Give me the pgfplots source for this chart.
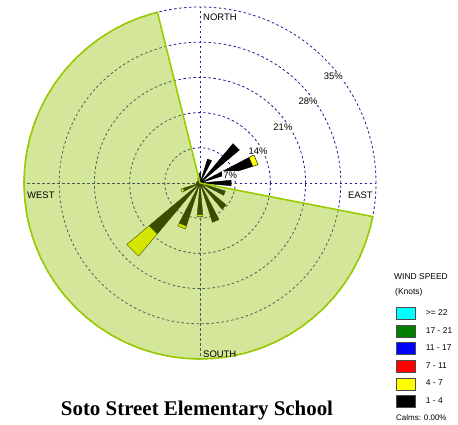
\documentclass[border=0pt]{standalone}
\usepackage{pgfplots}
\pgfplotsset{compat=1.18}
\usepgfplotslibrary{polar}
\usepackage{pgfplotstable}
\usepackage{fontspec}
\setmainfont{Liberation Sans}
\newfontfamily\titlefont{Liberation Serif}
\definecolor{gridblue}{RGB}{30,30,150}
\definecolor{sectorfill}{RGB}{147,192,0}
\definecolor{sectoredge}{RGB}{153,204,0}
\definecolor{legcyan}{RGB}{0,255,255}
\definecolor{leggreen}{RGB}{0,128,0}
\definecolor{legblue}{RGB}{0,0,255}
\definecolor{legred}{RGB}{255,0,0}
\definecolor{legyellow}{RGB}{255,255,0}

% black (1-4 knots) wedges: math angle, radius (%)
\pgfplotstableread{
a r
0 0
85 2.0
95 2.0
0 0
nan nan
0 0
62.5 5.0
72.5 5.0
0 0
nan nan
0 0
40 10.2
50 10.2
0 0
nan nan
0 0
17.5 11.0
27.5 11.0
0 0
nan nan
0 0
-5 6.2
5 6.2
0 0
nan nan
0 0
-27.5 5.3
-17.5 5.3
0 0
nan nan
0 0
-50 6.8
-40 6.8
0 0
nan nan
0 0
-72.5 8.2
-62.5 8.2
0 0
nan nan
0 0
-95 6.3
-85 6.3
0 0
nan nan
0 0
-117.5 9.0
-107.5 9.0
0 0
nan nan
0 0
-140 13.2
-130 13.2
0 0
nan nan
0 0
-162.5 3.5
-152.5 3.5
0 0
nan nan
0 0
175 0.8
185 0.8
0 0
nan nan
0 0
152.5 0.6
162.5 0.6
0 0
nan nan
0 0
130 0.6
140 0.6
0 0
nan nan
0 0
107.5 1.0
117.5 1.0
0 0
}\blackbars

% yellow (4-7 knots) segments
\pgfplotstableread{
a r
17.5 11.0
27.5 11.0
27.5 12.1
17.5 12.1
17.5 11.0
nan nan
-95 6.3
-85 6.3
-85 6.7
-95 6.7
-95 6.3
nan nan
-117.5 9.0
-107.5 9.0
-107.5 9.6
-117.5 9.6
-117.5 9.0
nan nan
-140 13.2
-130 13.2
-130 19.0
-140 19.0
-140 13.2
nan nan
-162.5 3.5
-152.5 3.5
-152.5 4.0
-162.5 4.0
-162.5 3.5
}\yellowbars

% shaded sector (bearing 101 to 346 deg, clockwise through south)
\pgfplotstableread{
a r
0 0
104 35
110 35
115 35
120 35
125 35
130 35
135 35
140 35
145 35
150 35
155 35
160 35
165 35
170 35
175 35
180 35
185 35
190 35
195 35
200 35
205 35
210 35
215 35
220 35
225 35
230 35
235 35
240 35
245 35
250 35
255 35
260 35
265 35
270 35
275 35
280 35
285 35
290 35
295 35
300 35
305 35
310 35
315 35
320 35
325 35
330 35
335 35
340 35
345 35
349 35
0 0
}\sector

\begin{document}
\begin{tikzpicture}
\useasboundingbox (-200bp,-242bp) rectangle (258bp,183bp);
\begin{polaraxis}[
  at={(0,0)}, anchor=center,
  width=352bp, height=352bp, scale only axis,
  xmin=0, xmax=360, ymin=0, ymax=35,
  xtick={0,90,180,270}, ytick={7,14,21,28},
  xticklabels={}, yticklabels={},
  major tick length=0pt,
  grid=major,
  grid style={gridblue, dash pattern=on 2.5bp off 2.5bp, line width=0.8bp},
  axis line style={gridblue, dash pattern=on 2.5bp off 2.5bp, line width=0.8bp},
  unbounded coords=jump,
  clip=false,
  legend style={at={(axis description cs:1.057,0.148)}, anchor=north west,
    draw=none, fill=none, inner sep=0pt, row sep=5.0bp, column sep=10bp,
    font=\fontsize{8.5}{10}\selectfont, nodes={inner sep=0pt}},
  legend cell align=left,
  legend image code/.code={\draw[#1, draw=black!70, line width=0.6bp] (0bp,-6bp) rectangle (19bp,6bp);},
]
\addplot[forget plot, fill=black, draw=black, line width=0.4bp] table[x=a, y=r] {\blackbars};
\addplot[forget plot, fill=legyellow, draw=black, line width=0.4bp] table[x=a, y=r] {\yellowbars};
\addplot[forget plot, fill=sectorfill, fill opacity=0.4, draw=none] table[x=a, y=r] {\sector};
\addplot[forget plot, draw=sectoredge, line width=1.6bp, fill=none] table[x=a, y=r] {\sector};

\node[font=\fontsize{9.5}{11}\selectfont, fill=white, inner sep=0.8bp] at (axis cs:15,6.2) {7\%};
\node[font=\fontsize{9.5}{11}\selectfont, fill=white, inner sep=0.5bp] at (axis cs:28.9,13.2) {14\%};
\node[font=\fontsize{9.5}{11}\selectfont, fill=white, inner sep=0.5bp] at (axis cs:34,19.9) {21\%};
\node[font=\fontsize{9.5}{11}\selectfont, fill=white, inner sep=0.5bp] at (axis cs:37.2,27) {28\%};
\node[font=\fontsize{9.5}{11}\selectfont, fill=white, inner sep=0.5bp] at (axis cs:38.8,34) {35\%};

\node[font=\fontsize{9.5}{11}\selectfont, anchor=west, inner sep=0pt, xshift=3bp] at (axis cs:90,33) {NORTH};
\node[font=\fontsize{9.5}{11}\selectfont, anchor=west, inner sep=0pt, xshift=3bp] at (axis cs:-90,34) {SOUTH};
\node[font=\fontsize{9.5}{11}\selectfont, anchor=west, inner sep=0pt, yshift=-12bp] at (axis cs:180,34.4) {WEST};
\node[font=\fontsize{9.5}{11}\selectfont, anchor=east, inner sep=0pt, yshift=-12bp] at (axis cs:0,34.4) {EAST};

\addlegendimage{fill=legcyan}\addlegendentry{>= 22}
\addlegendimage{fill=leggreen}\addlegendentry{17 - 21}
\addlegendimage{fill=legblue}\addlegendentry{11 - 17}
\addlegendimage{fill=legred}\addlegendentry{7 - 11}
\addlegendimage{fill=legyellow}\addlegendentry{4 - 7}
\addlegendimage{fill=black}\addlegendentry{1 - 4}
\end{polaraxis}
\node[anchor=west, inner sep=0pt, font=\fontsize{8.5}{10}\selectfont] at (194bp,-94bp) {WIND SPEED};
\node[anchor=west, inner sep=0pt, font=\fontsize{8.5}{10}\selectfont] at (195bp,-109bp) {(Knots)};
\node[anchor=west, inner sep=0pt, font=\fontsize{8}{10}\selectfont] at (196bp,-235bp) {Calms: 0.00\%};
\node[inner sep=0pt, font=\titlefont\bfseries\fontsize{21}{24}\selectfont] at (-3bp,-227bp) {Soto Street Elementary School};
\end{tikzpicture}
\end{document}
